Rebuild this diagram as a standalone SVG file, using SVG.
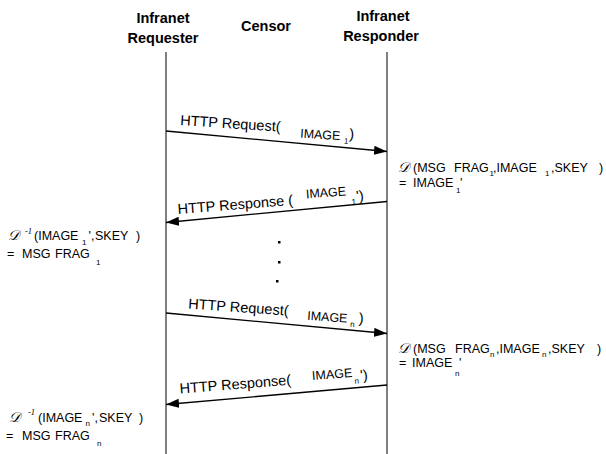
<svg xmlns="http://www.w3.org/2000/svg" width="606" height="454" viewBox="0 0 606 454">
<style>
.hd{font-family:"Liberation Sans",Arial,sans-serif;font-weight:bold;font-size:14.5px;text-anchor:middle;fill:#000}
.lb{font-family:"Liberation Sans",Arial,sans-serif;font-size:14.5px;fill:#000}
.t{font-family:"Liberation Sans",Arial,sans-serif;font-size:12.5px;fill:#000}
.s{font-family:"Liberation Sans",Arial,sans-serif;font-size:8px;fill:#000}
.d{font-family:"DejaVu Serif","Liberation Serif",serif;font-style:italic;font-size:14px;fill:#000}
.m{font-family:"Liberation Serif",serif;font-style:italic;font-size:8.5px;fill:#000}
.life{stroke:#000;stroke-width:1;fill:none}
.msg{stroke:#000;stroke-width:1.3;fill:none;marker-end:url(#ah)}
</style>
<defs>
<marker id="ah" markerUnits="userSpaceOnUse" markerWidth="14" markerHeight="10" refX="13" refY="4.5" orient="auto">
<path d="M0,0 L13,4.5 L0,9 z" fill="#000"/>
</marker>
</defs>
<rect width="606" height="454" fill="#fff"/>
<g id="requester">
<text class="hd" x="163" y="23">Infranet</text>
<text class="hd" x="163" y="42.5">Requester</text>
<line class="life" x1="166" y1="52" x2="166" y2="454"/>
</g>
<g id="censor">
<text class="hd" x="266" y="31">Censor</text>
</g>
<g id="responder">
<text class="hd" x="383" y="21">Infranet</text>
<text class="hd" x="381" y="40.5">Responder</text>
<line class="life" x1="387" y1="52" x2="387" y2="454"/>
</g>
<g id="connectors">
<line class="msg" x1="166" y1="131" x2="387" y2="151.5"/>
<line class="msg" x1="387" y1="201.5" x2="166" y2="222.5"/>
<line class="msg" x1="166" y1="313" x2="387" y2="333.5"/>
<line class="msg" x1="387" y1="385" x2="166" y2="404.5"/>
</g>
<g id="label-req1" transform="translate(180,125) rotate(3.8)">
<text class="lb" x="0" y="0">HTTP Request(</text>
<text class="t" x="120.5" y="4.5">IMAGE</text>
<text class="s" x="164.5" y="7.5">1</text>
<text class="lb" x="169.5" y="2.5">)</text>
</g>
<g id="label-resp1" transform="translate(178,214) rotate(-4.5)">
<text class="lb" x="0" y="0">HTTP Response (</text>
<text class="t" x="129" y="-5.5">IMAGE</text>
<text class="s" x="174" y="4.5">1</text>
<text class="lb" x="179" y="1">')</text>
</g>
<g id="label-reqn" transform="translate(188,308.5) rotate(4)">
<text class="lb" x="0" y="0">HTTP Request(</text>
<text class="t" x="119.5" y="3">IMAGE</text>
<text class="s" x="163" y="7">n</text>
<text class="lb" x="171" y="2.5">)</text>
</g>
<g id="label-respn" transform="translate(180,393.5) rotate(-4.5)">
<text class="lb" x="0" y="0">HTTP Response(</text>
<text class="t" x="133" y="-3">IMAGE</text>
<text class="s" x="175" y="4">n</text>
<text class="lb" x="181" y="1">')</text>
</g>
<g id="calc-resp1">
<text class="d" x="398" y="172">𝒟</text>
<text class="t" y="172"><tspan x="413">(MSG</tspan><tspan x="454">FRAG</tspan></text>
<text class="s" x="489.5" y="176">1</text>
<text class="t" x="493" y="172">,IMAGE</text>
<text class="s" x="545" y="176">1</text>
<text class="t" y="172"><tspan x="551">,SKEY</tspan><tspan x="599">)</tspan></text>
<text class="t" y="187"><tspan x="399">=</tspan><tspan x="413">IMAGE</tspan></text>
<text class="s" x="456" y="193">1</text>
<text class="t" x="460" y="187">'</text>
</g>
<g id="calc-req1">
<text class="d" x="8" y="240">𝒟</text>
<text class="m" x="25" y="234">-1</text>
<text class="t" x="34" y="240">(IMAGE</text>
<text class="s" x="82" y="244.5">1</text>
<text class="t" y="240"><tspan x="88.5">',</tspan><tspan x="95">SKEY</tspan><tspan x="136">)</tspan></text>
<text class="t" y="258"><tspan x="7">=</tspan><tspan x="22">MSG</tspan><tspan x="55">FRAG</tspan></text>
<text class="s" x="96" y="264.5">1</text>
</g>
<g id="dots">
<rect x="278" y="241" width="2.5" height="2.5" fill="#000"/>
<rect x="278" y="261" width="2.5" height="2.5" fill="#000"/>
<rect x="276" y="280" width="2.5" height="2.5" fill="#000"/>
</g>
<g id="calc-respn">
<text class="d" x="398" y="353">𝒟</text>
<text class="t" y="353"><tspan x="413">(MSG</tspan><tspan x="455">FRAG</tspan></text>
<text class="s" x="490" y="357">n</text>
<text class="t" x="496" y="353">,IMAGE</text>
<text class="s" x="542" y="357">n</text>
<text class="t" y="353"><tspan x="548">,SKEY</tspan><tspan x="597">)</tspan></text>
<text class="t" y="367"><tspan x="399">=</tspan><tspan x="412">IMAGE</tspan></text>
<text class="s" x="455" y="376">n</text>
<text class="t" x="459" y="367">'</text>
</g>
<g id="calc-reqn">
<text class="d" x="9" y="422">𝒟</text>
<text class="m" x="28" y="415">-1</text>
<text class="t" x="38" y="422">(IMAGE</text>
<text class="s" x="85.5" y="426">n</text>
<text class="t" y="422"><tspan x="92">',</tspan><tspan x="99">SKEY</tspan><tspan x="139">)</tspan></text>
<text class="t" y="440"><tspan x="6">=</tspan><tspan x="22">MSG</tspan><tspan x="55">FRAG</tspan></text>
<text class="s" x="97" y="446">n</text>
</g>
</svg>
